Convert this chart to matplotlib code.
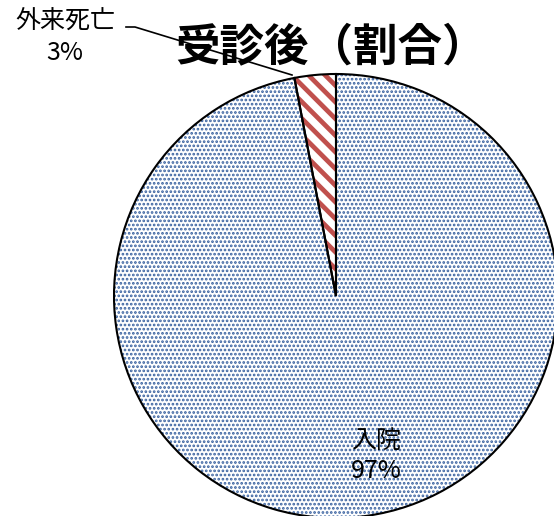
import matplotlib
matplotlib.use("Agg")
import matplotlib.pyplot as plt

plt.rcParams['font.family'] = ['Noto Sans CJK JP', 'DejaVu Sans']

# data
labels = ['入院', '外来死亡']
values = [97, 3]
pct_text = ['97%', '3%']
title = '受診後（割合）'

W, H = 554, 516
fig = plt.figure(figsize=(W / 100, H / 100), dpi=100)

# pie geometry in pixels
cx, cy, r = 336, 296, 222
ax = fig.add_axes([(cx - r) / W, (H - cy - r) / H, 2 * r / W, 2 * r / H])

# hatched fills first
wedges, _ = ax.pie(values, startangle=90, counterclock=False, radius=1,
                   wedgeprops=dict(linewidth=0))
styles = [('#37609f', '....', 1.3), ('#c0504d', '\\\\', 3.4)]
for w, (col, hatch, hlw) in zip(wedges, styles):
    w.set_facecolor('white')
    w.set_edgecolor(col)
    w.set_hatch(hatch)
    w.set_linewidth(0)
    if hasattr(w, 'set_hatch_linewidth'):
        w.set_hatch_linewidth(hlw)
    else:
        w._hatch_linewidth = hlw

# black outlines on top
ax.pie(values, startangle=90, counterclock=False, radius=1,
       wedgeprops=dict(facecolor='none', edgecolor='black', linewidth=1.5))

ax.set_xlim(-1, 1)
ax.set_ylim(-1, 1)
ax.set_aspect('equal')
ax.axis('off')

def px(x, y):
    return (x - cx) / r, (cy - y) / r

# labels
x, y = px(376, 456)
ax.text(x, y, labels[0] + '\n' + pct_text[0], ha='center', va='center',
        fontsize=18, linespacing=1.25, clip_on=False)
x, y = px(65, 37)
ax.text(x, y, labels[1] + '\n' + pct_text[1], ha='center', va='center',
        fontsize=18, linespacing=1.25, clip_on=False)

# leader line
p0 = px(126, 27)
p1 = px(135, 27)
p2 = px(292, 75)
ax.plot([p0[0], p1[0], p2[0]], [p0[1], p1[1], p2[1]], color='black',
        linewidth=1.2, clip_on=False)

fig.text(331 / W, 1 - 47 / H, title, ha='center', va='center',
         fontsize=32, fontweight='bold')

fig.savefig('out.png', dpi=100)
